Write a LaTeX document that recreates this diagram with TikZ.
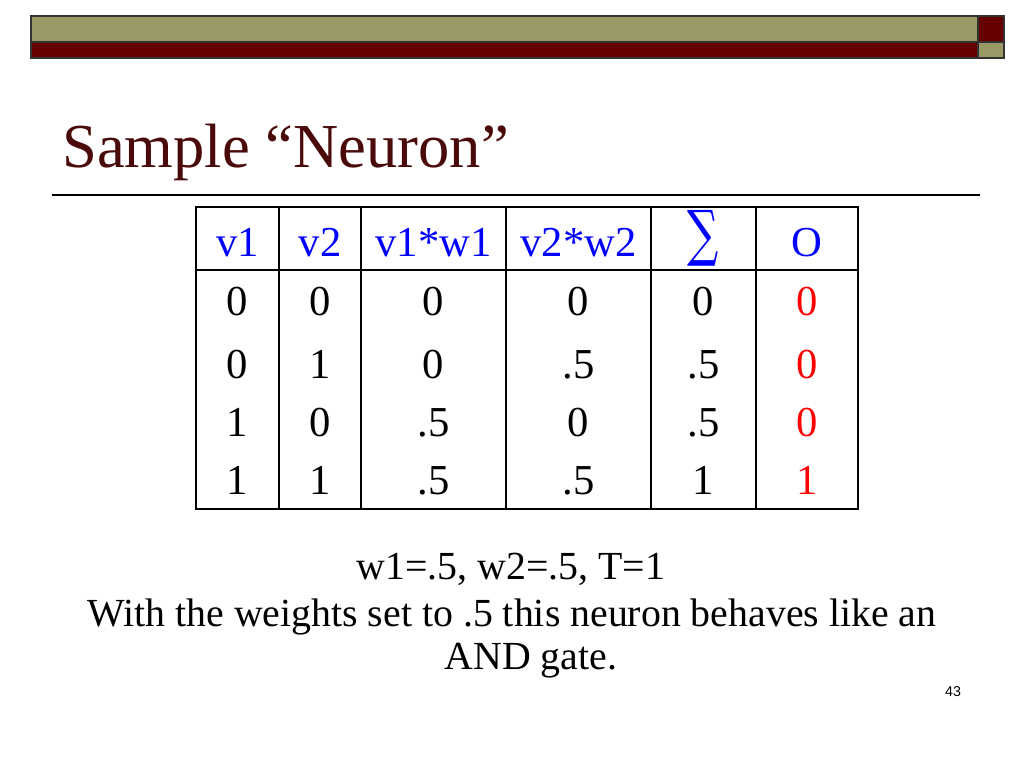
\documentclass[tikz,border=0pt]{standalone}
\usepackage{fontspec}
\setmainfont{Liberation Serif}
\newfontfamily\arialfont{Liberation Sans}
\newfontfamily\sumfont{DejaVu Serif}
\definecolor{olive}{HTML}{999966}
\definecolor{barred}{HTML}{660000}
\definecolor{titlecol}{HTML}{4A0A0A}
\definecolor{headblue}{HTML}{0000FF}
\definecolor{outred}{HTML}{FF0000}
\begin{document}
\begin{tikzpicture}[x=0.703125pt,y=-0.703125pt,
  bar/.style={draw=black!80,line width=0.8pt},
  cell/.style={anchor=base,inner sep=0pt,font=\fontsize{30}{34}\selectfont},
  head/.style={cell,text=headblue},
  outv/.style={cell,text=outred},
  body/.style={anchor=base,inner sep=0pt,font=\fontsize{28}{32}\selectfont}]
\useasboundingbox[fill=white] (0,0) rectangle (1024,768);
% top bar
\fill[olive] (31,16) rectangle (978,42);
\fill[barred] (31,42) rectangle (978,58);
\fill[barred] (978,16) rectangle (1004,42);
\fill[olive] (978,42) rectangle (1004,58);
\draw[bar] (31,16) rectangle (978,42);
\draw[bar] (31,42) rectangle (978,58);
\draw[bar] (978,16) rectangle (1004,42);
\draw[bar] (978,42) rectangle (1004,58);
% title
\node[anchor=base west,inner sep=0pt,text=titlecol,font=\fontsize{44}{48}\selectfont] (title) at (62,168) {Sample “Neuron”};
\draw[line width=0.9pt] (52,195) coordinate (tl) -- (980,195) coordinate (tr);
% table grid
\foreach \x in {279,361,506,651,756} \draw[line width=1pt] (\x,207) -- (\x,509);
\draw[line width=2pt] (196,270) -- (858,270);
\draw[line width=2pt] (196,207) rectangle (858,509);
% header
\node[head] (h1) at (237.5,257) {v1};
\node[head] (h2) at (320,257) {v2};
\node[head] (h3) at (433.5,257) {v1*w1};
\node[head] (h4) at (578.5,257) {v2*w2};
\node[anchor=south,inner sep=0pt,text=headblue] (h5) at (703,267) {\resizebox{22pt}{31pt}{\sumfont ∑}};
\node[head] (h6) at (807,257) {O};
% rows
\foreach \r/\y/\a/\b/\c/\d/\e/\f in {1/316/0/0/0/0/0/0, 2/378/0/1/0/.5/.5/0, 3/436/1/0/.5/0/.5/0, 4/494/1/1/.5/.5/1/1}{
  \node[cell] (r\r c1) at (237.5,\y) {\a};
  \node[cell] (r\r c2) at (320,\y) {\b};
  \node[cell] (r\r c3) at (433.5,\y) {\c};
  \node[cell] (r\r c4) at (578.5,\y) {\d};
  \node[cell] (r\r c5) at (703.5,\y) {\e};
  \node[outv] (r\r c6) at (807,\y) {\f};
}
% bottom text
\node[body] (w) at (511,579) {w1=.5, w2=.5, T=1};
\node[body] (l1) at (512,626) {With the weights set to .5 this neuron behaves like an};
\node[body] (l2) at (531,669) {AND gate.};
\node[anchor=base,inner sep=0pt,font=\arialfont\fontsize{10}{12}\selectfont] (pg) at (953,696) {43};
\end{tikzpicture}
\end{document}
